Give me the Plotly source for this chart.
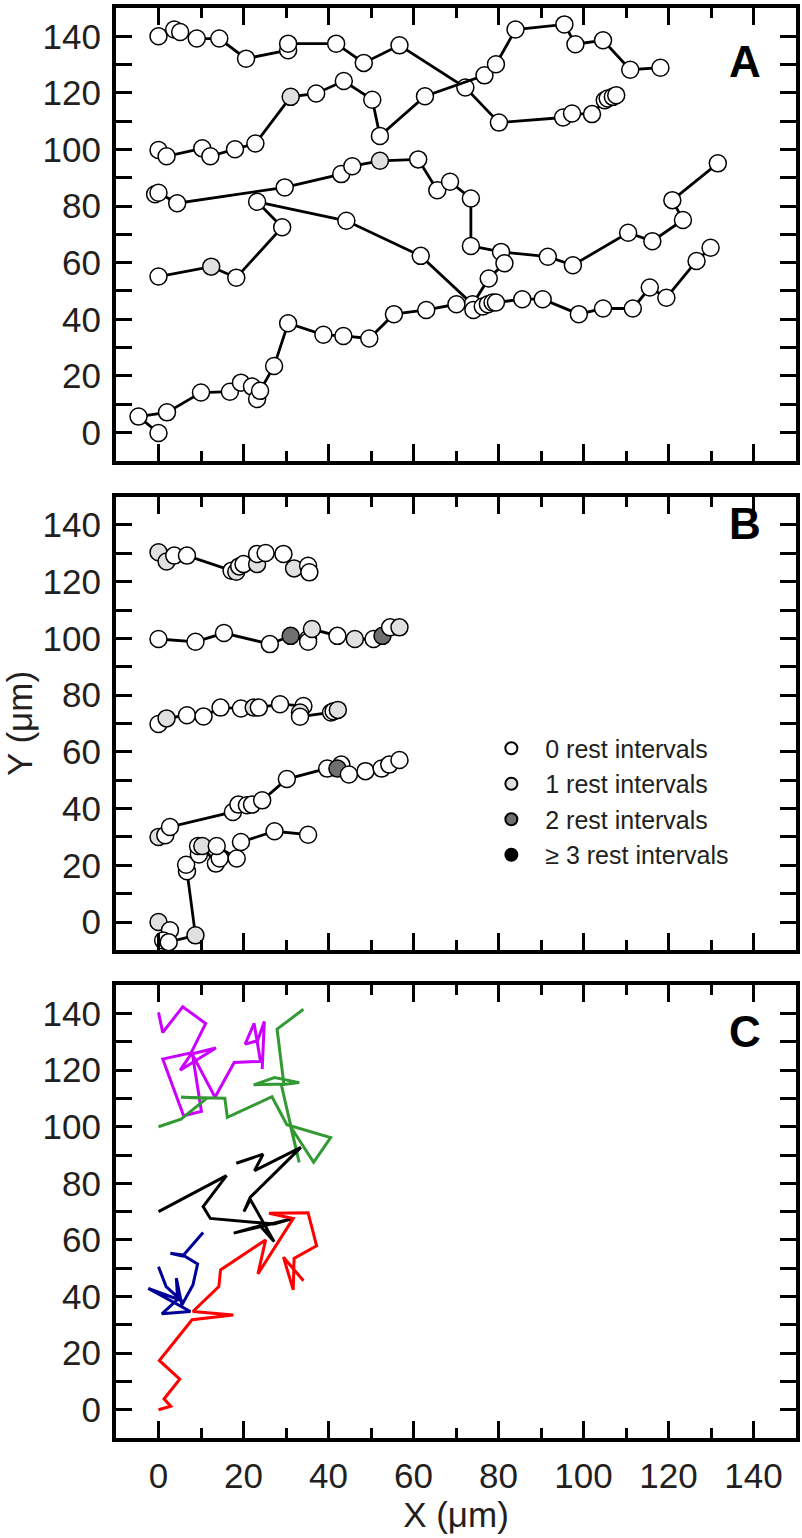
import plotly.graph_objects as go
from plotly.subplots import make_subplots

# ---------------- Panel A : five tracks (x, y, rest-interval count) ----------------
A1_x = [0, 3.7, 5.1, 9.0, 14.3, 20.6, 30.5, 30.5, 41.8, 48.3, 56.7, 72.2, 80.1, 95.2, 97.3, 102.0, 105.0, 105.7, 106.9, 107.7]
A1_y = [140, 142.4, 141.5, 139.2, 139.2, 132.1, 135.1, 137.4, 137.4, 130.6, 136.8, 121.9, 109.5, 111.3, 112.7, 112.5, 117.4, 118.0, 118.6, 119.2]
A1_r = [0] * 20

A2_x = [0, 1.9, 10.3, 12.2, 18.0, 22.8, 31.1, 37.1, 43.6, 50.3, 52.1, 62.7, 76.7, 79.4, 84.0, 95.5, 98.1, 104.6, 111.0, 118.1]
A2_y = [99.8, 97.6, 100.4, 97.6, 100.1, 102.1, 118.6, 119.8, 124.2, 117.6, 104.8, 118.8, 126.2, 130.1, 142.4, 144.2, 137.2, 138.6, 128.2, 128.9]
A2_r = [0, 0, 0, 0, 0, 0, 1, 0, 0, 0, 0, 0, 0, 0, 0, 0, 0, 0, 0, 0]

A3_x = [-0.8, 0, 4.4, 29.7, 43.0, 45.6, 52.1, 61.1, 65.6, 68.6, 73.5, 73.5, 80.6, 91.6, 97.5, 110.5, 116.2, 123.4, 120.9, 131.6]
A3_y = [84.2, 84.7, 81.0, 86.6, 91.3, 94.1, 96.0, 96.5, 85.6, 88.6, 82.7, 65.9, 63.8, 62.1, 59.1, 70.6, 67.6, 75.1, 82.1, 95.1]
A3_r = [0, 0, 0, 0, 0, 0, 1, 0, 0, 0, 0, 0, 0, 0, 0, 0, 0, 0, 0, 0]

A4_x = [0, 12.4, 18.3, 29.1, 23.2, 44.2, 61.7, 73.9, 77.7, 81.4]
A4_y = [55.1, 58.6, 54.7, 72.5, 81.5, 74.8, 62.4, 45.3, 54.4, 59.8]
A4_r = [0, 1, 0, 0, 0, 0, 0, 0, 0, 0]

A5_x = [0, -4.7, 2.0, 10.0, 16.8, 19.4, 22.0, 23.2, 23.9, 27.2, 30.5, 38.8, 43.5, 49.6, 55.4, 63.0, 70.1,
        74.1, 76.3, 77.5, 78.6, 79.4, 85.6, 90.4, 98.9, 104.6, 111.6, 115.6, 119.5, 126.6, 129.9]
A5_y = [-0.2, 5.6, 7.1, 14.1, 14.4, 17.6, 16.2, 11.8, 14.7, 23.5, 38.6, 34.5, 34.1, 33.2, 41.8, 43.3, 45.3,
        43.3, 44.5, 45.3, 45.9, 45.9, 47.1, 47.1, 41.8, 43.8, 43.8, 51.2, 47.6, 60.6, 65.3]
A5_r = [0] * 31

# ---------------- Panel B : five tracks ----------------
B1_x = [0, 1.9, 3.7, 6.7, 17.2, 18.3, 19.0, 20.0, 23.2, 23.2, 25.2, 29.4, 31.9, 35.2, 35.5]
B1_y = [130.4, 127.1, 129.2, 129.2, 123.9, 123.5, 125.4, 126.2, 126.2, 129.8, 130.1, 129.8, 124.7, 125.6, 123.3]
B1_r = [1, 1, 0, 0, 0, 1, 0, 0, 1, 0, 0, 0, 1, 0, 0]

B2_x = [0, 8.7, 15.4, 26.2, 31.1, 35.2, 35.2, 36.1, 42.1, 46.2, 50.6, 52.7, 54.5, 56.7]
B2_y = [99.8, 98.8, 101.9, 98.0, 100.9, 99.8, 98.8, 103.3, 100.9, 99.8, 99.8, 100.9, 103.9, 103.9]
B2_r = [0, 0, 0, 0, 2, 0, 0, 1, 0, 1, 0, 2, 0, 1]

B3_x = [0, 1.9, 6.7, 10.6, 14.6, 19.4, 22.4, 23.6, 28.6, 34.1, 33.3, 33.3, 40.6, 41.2, 42.2]
B3_y = [69.8, 71.8, 72.9, 72.5, 75.6, 75.3, 75.6, 75.6, 76.8, 76.2, 73.9, 72.4, 73.9, 74.3, 74.8]
B3_r = [0, 1, 0, 0, 0, 0, 1, 0, 0, 0, 1, 0, 0, 0, 1]

B4_x = [0, 1.6, 2.7, 17.5, 18.8, 20.8, 22.0, 24.4, 30.2, 39.7, 43.0, 42.1, 44.8, 48.7, 52.5, 54.3, 56.7]
B4_y = [30.0, 30.6, 33.5, 38.8, 41.4, 41.2, 41.4, 42.9, 50.4, 54.1, 55.5, 54.1, 52.0, 53.2, 54.1, 55.5, 57.1]
B4_r = [1, 0, 0, 0, 0, 0, 0, 0, 0, 0, 0, 2, 0, 0, 0, 0, 0]

B5_x = [0, 2.7, 1.1, 2.4, 8.7, 6.7, 6.5, 9.5, 9.3, 10.3, 13.5, 14.4, 13.7, 18.4, 19.4, 27.3, 35.2]
B5_y = [0, -2.9, -6.5, -7.1, -4.7, 17.9, 20.2, 23.8, 26.8, 26.8, 20.6, 22.4, 26.8, 22.4, 28.2, 32.0, 30.8]
B5_r = [1, 0, 0, 0, 1, 0, 0, 0, 0, 1, 0, 0, 0, 0, 0, 0, 0]

# ---------------- Panel C : simulated tracks (lines only) ----------------
C_magenta_x = [0, 1.0, 5.7, 11.1, 7.5, 13.5, 5.1, 7.9, 1.0, 5.9, 10.1, 8.0, 13.3, 17.8, 24.0, 22.5, 20.4, 23.3, 24.9, 24.4]
C_magenta_y = [140.4, 133.3, 142.4, 136.5, 125.6, 127.8, 120.0, 126.2, 123.9, 103.9, 105.4, 125.5, 110.4, 122.7, 123.1, 136.5, 129.2, 130.4, 137.2, 120.4]

C_green_x = [0, 5.3, 11.4, 5.3, 15.6, 16.2, 26.7, 30.2, 40.5, 36.5, 31.1, 33.1, 28.9, 33.1, 27.3, 22.4, 29.5, 27.9, 34.1]
C_green_y = [100.0, 102.7, 110.1, 110.4, 110.1, 103.3, 110.6, 100.7, 96.2, 87.4, 100.0, 87.4, 114.8, 115.6, 117.4, 114.8, 115.1, 134.5, 141.5]

C_black_x = [0, 16.0, 10.5, 12.2, 27.2, 31.7, 17.7, 23.9, 27.2, 21.6, 20.1, 21.6, 33.5, 22.6, 24.6, 18.3]
C_black_y = [70.0, 82.7, 71.8, 67.6, 65.6, 67.6, 62.4, 65.0, 59.4, 74.3, 70.0, 75.1, 92.7, 84.5, 90.3, 87.1]

C_red_x = [0, 2.9, 1.3, 5.0, 0.2, 7.9, 17.6, 8.1, 14.2, 14.6, 25.2, 23.4, 31.7, 26.0, 35.2, 37.2, 31.9, 31.7, 29.4, 34.1]
C_red_y = [0, 1.2, 3.8, 10.8, 17.4, 31.8, 33.5, 34.7, 43.5, 49.4, 60.0, 48.0, 67.6, 69.4, 69.6, 57.9, 53.5, 42.4, 53.9, 45.6]

C_blue_x = [0, 1.8, 5.5, -2.4, 7.5, 0.8, 4.5, 4.2, 5.5, 8.1, 9.2, 5.7, 2.8, 5.7, 10.5]
C_blue_y = [50.5, 43.5, 38.5, 42.9, 34.7, 33.9, 39.0, 46.5, 37.0, 44.1, 51.5, 54.7, 55.3, 54.3, 62.6]

REST_COLORS = ['#ffffff', '#e0e0e0', '#6f6f6f', '#000000']
LEGEND_LABELS = ['0 rest intervals', '1 rest intervals', '2 rest intervals', '\u2265 3 rest intervals']
PANEL_LABELS = ['A', 'B', 'C']

FONT = 'Liberation Sans, Arial, Helvetica, sans-serif'
TXT = '#231f20'

fig = make_subplots(rows=3, cols=1, shared_xaxes=True)

panelA = [(A1_x, A1_y, A1_r), (A2_x, A2_y, A2_r), (A3_x, A3_y, A3_r), (A4_x, A4_y, A4_r), (A5_x, A5_y, A5_r)]
panelB = [(B1_x, B1_y, B1_r), (B2_x, B2_y, B2_r), (B3_x, B3_y, B3_r), (B4_x, B4_y, B4_r), (B5_x, B5_y, B5_r)]

for row, tracks in ((1, panelA), (2, panelB)):
    for x, y, r in tracks:
        fig.add_trace(go.Scatter(
            x=x, y=y, mode='lines+markers',
            line=dict(color='black', width=2.8),
            marker=dict(size=17, color=[REST_COLORS[v] for v in r],
                        line=dict(color='black', width=1.5)),
            showlegend=False, hoverinfo='skip', cliponaxis=False), row=row, col=1)

for x, y, c in ((C_magenta_x, C_magenta_y, '#cc00ff'), (C_green_x, C_green_y, '#339933'),
                (C_black_x, C_black_y, '#000000'), (C_red_x, C_red_y, '#ff0000'),
                (C_blue_x, C_blue_y, '#000099')):
    fig.add_trace(go.Scatter(x=x, y=y, mode='lines', line=dict(color=c, width=3),
                             showlegend=False, hoverinfo='skip'), row=3, col=1)

for lab, col in zip(LEGEND_LABELS, REST_COLORS):
    fig.add_trace(go.Scatter(x=[None], y=[None], mode='markers', name='\u00a0\u00a0' + lab, legendgroup=lab,
                             marker=dict(size=12, color=col, line=dict(color='black', width=1))),
                  row=2, col=1)

axis_common = dict(range=[-10, 150], dtick=20, tick0=0, ticks='inside', tickwidth=2.5,
                   tickcolor='black', showline=True, linewidth=4, linecolor='black',
                   mirror='ticks', showgrid=False, zeroline=False, ticklabelstandoff=4,
                   tickfont=dict(family=FONT, size=35, color=TXT))

domains = {1: [0.6834, 1.0], 2: [0.3410, 0.6583], 3: [0.0, 0.3166]}
for row in (1, 2, 3):
    fig.update_xaxes(axis_common, ticklen=17,
                     minor=dict(ticks='inside', dtick=10, ticklen=10, tickwidth=2.5, tickcolor='black'),
                     row=row, col=1)
    fig.update_yaxes(axis_common, ticklen=16, domain=domains[row], automargin=False,
                     minor=dict(ticks='inside', dtick=10, ticklen=16, tickwidth=2.5, tickcolor='black'),
                     row=row, col=1)

fig.update_xaxes(showticklabels=False, row=1, col=1)
fig.update_xaxes(showticklabels=False, row=2, col=1)
fig.update_xaxes(title=dict(text='X (\u03bcm)', font=dict(family=FONT, size=35, color=TXT), standoff=9),
                 automargin=False, row=3, col=1)
fig.update_yaxes(title=dict(text='Y (\u03bcm)', font=dict(family=FONT, size=35, color=TXT), standoff=14),
                 row=2, col=1)

label_pos = [(137.9, 131.1, 'x', 'y'), (137.9, 140.6, 'x2', 'y2'), (137.9, 133.5, 'x3', 'y3')]
for lab, (lx, ly, xr, yr) in zip(PANEL_LABELS, label_pos):
    fig.add_annotation(x=lx, y=ly, xref=xr, yref=yr, text='<b>%s</b>' % lab, showarrow=False,
                       font=dict(family=FONT, size=44, color='black'))

fig.update_layout(
    width=802, height=1538,
    margin=dict(l=116, r=6, t=4, b=100),
    plot_bgcolor='white', paper_bgcolor='white',
    showlegend=True,
    legend=dict(x=0.552, y=0.4983, xanchor='left', yanchor='top', bgcolor='rgba(0,0,0,0)',
                font=dict(family=FONT, size=25, color=TXT), itemsizing='constant',
                tracegroupgap=0),
)

fig.write_html('out.html', config={'displayModeBar': False},
               post_script="document.body.style.margin='0px';")
